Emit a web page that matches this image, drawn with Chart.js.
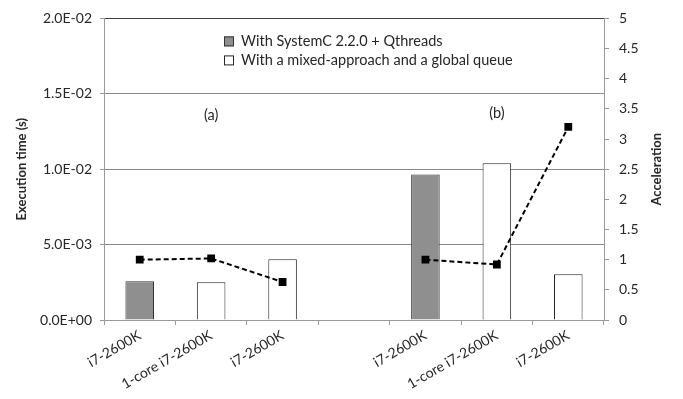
<!DOCTYPE html>
<html>
<head>
<meta charset="utf-8">
<script src="https://cdn.jsdelivr.net/npm/chart.js@4/dist/chart.umd.min.js"></script>
<style>
  html, body { margin: 0; padding: 0; background: #fff; }
  canvas { display: block; }
</style>
</head>
<body>
<canvas id="chart" width="683" height="399"></canvas>
<script>
// Categories along the x axis (the empty slot separates groups (a) and (b))
const categories = ['i7-2600K', '1-core i7-2600K', 'i7-2600K', '', 'i7-2600K', '1-core i7-2600K', 'i7-2600K'];

// Execution time in seconds (left axis)
const qthreadsTime   = [0.00257, null, null, null, 0.00965, null, null];
const mixedQueueTime = [null, 0.00250, 0.00403, null, null, 0.01040, 0.00303];

// Acceleration (right axis)
const acceleration = [1.00, 1.02, 0.63, null, 1.00, 0.92, 3.20];

// Series and annotation texts
const seriesNames = ['With SystemC 2.2.0 + Qthreads', 'With a mixed-approach and a global queue'];
const groupLabels = ['(a)', '(b)'];
const groupLabelCategory = [1, 5];
const groupLabelTime = [0.0136, 0.0137];
const leftTitle = 'Execution time (s)';
const rightTitle = 'Acceleration';

// Tick settings
const timeMax = 0.02, timeStep = 0.005;
const accelMax = 5, accelStep = 0.5;

const FONT = 'Lato, "Liberation Sans", sans-serif';
const TEXT = '#262626';
const AXIS = '#9a9a9a';

function sci(v) {
  if (Math.abs(v) < 1e-12) return '0.0E+00';
  const parts = v.toExponential(1).split('e');
  const n = parseInt(parts[1], 10);
  return parts[0] + 'E' + (n < 0 ? '-' : '+') + String(Math.abs(n)).padStart(2, '0');
}

// Draws the inset legend, the (a)/(b) group labels and the right axis title
const overlay = {
  id: 'overlay',
  afterDatasetsDraw(chart) {
    const { ctx, chartArea, scales } = chart;
    ctx.save();

    // Legend
    const lx = chartArea.left + 120;
    let ly = chartArea.top + 23;
    ctx.font = '14.5px ' + FONT;
    ctx.textBaseline = 'middle';
    ctx.textAlign = 'left';
    chart.data.datasets.filter(d => d.type !== 'line').forEach(d => {
      ctx.fillStyle = d.backgroundColor;
      ctx.fillRect(lx, ly - 5, 10, 10);
      ctx.strokeStyle = d.borderColor;
      ctx.lineWidth = 1;
      ctx.strokeRect(lx + 0.5, ly - 4.5, 9, 9);
      ctx.fillStyle = TEXT;
      ctx.fillText(d.label, lx + 17, ly);
      ly += 19;
    });

    // Group labels
    ctx.textAlign = 'center';
    groupLabels.forEach((t, i) => {
      const x = scales.x.getPixelForValue(groupLabelCategory[i]);
      const y = scales.y.getPixelForValue(groupLabelTime[i]);
      ctx.fillText(t, x, y);
    });

    // Right axis title, read bottom to top
    const r = scales.y1;
    ctx.font = 'bold 13px ' + FONT;
    ctx.translate(r.right - 26, (chartArea.top + chartArea.bottom) / 2);
    ctx.rotate(-Math.PI / 2);
    ctx.fillText(rightTitle, 0, 0);
    ctx.restore();
  }
};

new Chart(document.getElementById('chart'), {
  type: 'bar',
  data: {
    labels: categories,
    datasets: [
      {
        type: 'line',
        label: 'Acceleration',
        data: acceleration,
        yAxisID: 'y1',
        borderColor: '#000',
        borderWidth: 2,
        borderDash: [5, 3],
        spanGaps: false,
        fill: false,
        pointStyle: 'rect',
        pointRadius: 5.5,
        pointBackgroundColor: '#000',
        pointBorderColor: '#000',
        pointBorderWidth: 0,
        order: 0
      },
      {
        label: seriesNames[0],
        data: qthreadsTime,
        yAxisID: 'y',
        backgroundColor: '#8f8f8f',
        borderColor: '#333333',
        borderWidth: 1,
        grouped: false,
        barPercentage: 0.4,
        categoryPercentage: 1,
        order: 1
      },
      {
        label: seriesNames[1],
        data: mixedQueueTime,
        yAxisID: 'y',
        backgroundColor: '#ffffff',
        borderColor: '#262626',
        borderWidth: 1,
        grouped: false,
        barPercentage: 0.4,
        categoryPercentage: 1,
        order: 1
      }
    ]
  },
  options: {
    responsive: false,
    animation: false,
    devicePixelRatio: 1,
    layout: { padding: { top: 14, left: 0, right: 0, bottom: 0 } },
    plugins: { legend: { display: false }, tooltip: { enabled: false } },
    scales: {
      x: {
        offset: true,
        grid: { offset: true, drawOnChartArea: false, drawTicks: true, tickLength: 5, color: AXIS },
        border: { color: AXIS },
        ticks: {
          autoSkip: false, minRotation: 30, maxRotation: 30, padding: 2,
          color: TEXT, font: { family: FONT, size: 14 }
        },
        afterFit(s) { s.height = 79; }
      },
      y: {
        position: 'left',
        min: 0, max: timeMax,
        ticks: {
          stepSize: timeStep, padding: 8, color: TEXT,
          font: { family: FONT, size: 14 },
          callback: v => sci(v)
        },
        grid: {
          color: c => (c.tick && Math.abs(c.tick.value - timeMax) < 1e-9) ? '#404040' : '#8a8a8a',
          tickColor: AXIS, tickLength: 4, drawTicks: true
        },
        border: { color: AXIS },
        title: {
          display: true, text: leftTitle, color: TEXT,
          font: { family: FONT, size: 13, weight: 'bold' },
          padding: { top: 14, bottom: 0 }
        },
        afterFit(s) { s.width = 104; }
      },
      y1: {
        position: 'right',
        min: 0, max: accelMax,
        ticks: {
          stepSize: accelStep, padding: 10, color: TEXT,
          font: { family: FONT, size: 14 },
          callback: v => String(Math.round(v * 10) / 10)
        },
        grid: { drawOnChartArea: false, tickColor: AXIS, tickLength: 5 },
        border: { color: AXIS },
        afterFit(s) { s.width = 79; }
      }
    }
  },
  plugins: [overlay]
});
</script>
</body>
</html>
